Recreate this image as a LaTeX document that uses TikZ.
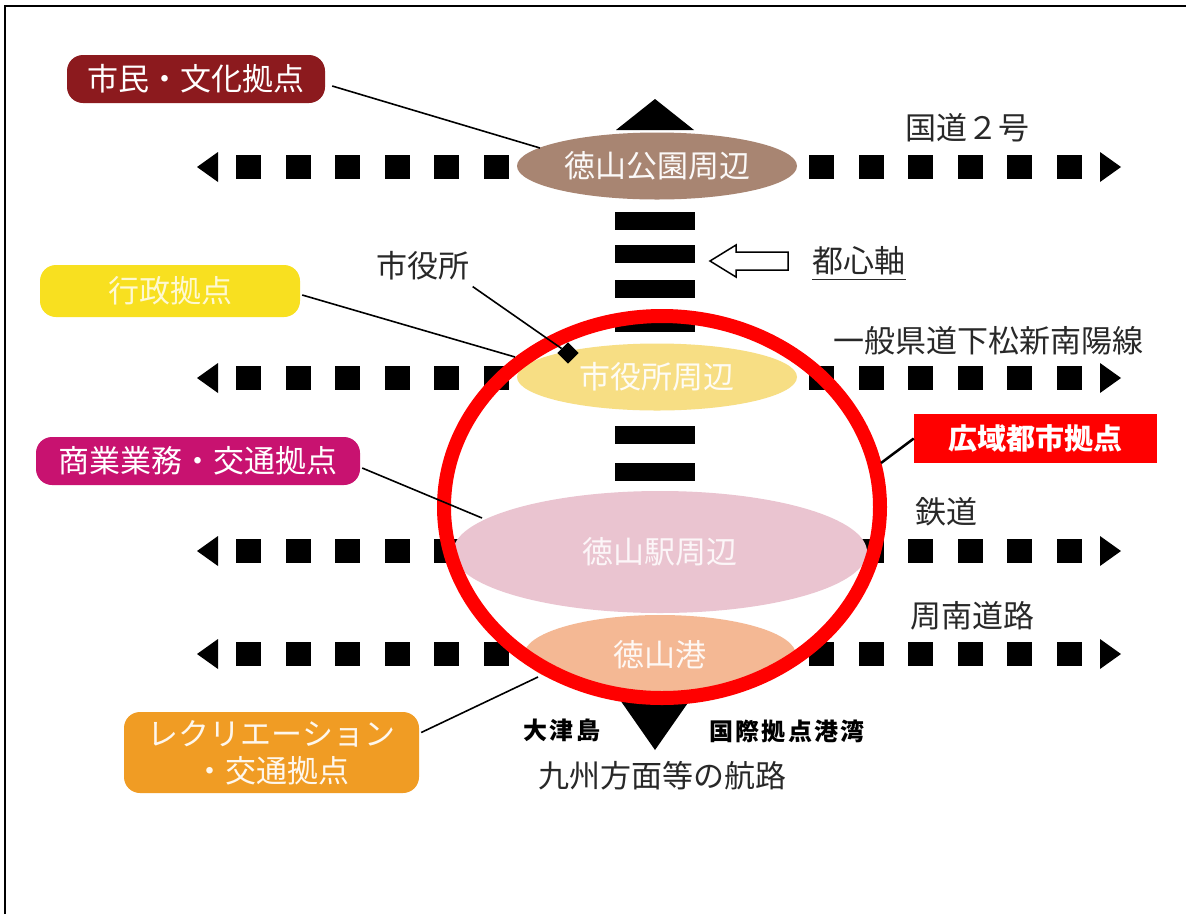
\documentclass[tikz,border=0pt]{standalone}
\usepackage{fontspec}
\setmainfont{Noto Sans CJK JP}
\usetikzlibrary{shapes.geometric}
\definecolor{cMaroon}{RGB}{140,26,30}
\definecolor{cYellow}{RGB}{248,224,32}
\definecolor{cMagenta}{RGB}{200,18,112}
\definecolor{cOrange}{RGB}{240,156,36}
\definecolor{cBrown}{RGB}{168,133,114}
\definecolor{cPaleY}{RGB}{247,222,132}
\definecolor{cPink}{RGB}{234,196,208}
\definecolor{cSalmon}{RGB}{244,184,148}
\definecolor{cRed}{RGB}{255,0,0}
\definecolor{cText}{RGB}{40,40,40}
\tikzset{
 fbig/.style={font=\fontsize{31}{37}\selectfont},
 tagbox/.style={rounded corners=16pt, inner sep=0pt, fbig, text=white},
 zone/.style={ellipse, inner sep=0pt, fbig, text=white},
 roadlbl/.style={fbig, text=cText, inner sep=0pt},
 lead/.style={line width=1.6pt, black},
 boldlbl/.style={font=\fontsize{24}{28}\selectfont\bfseries\addfontfeature{LetterSpace=9}, inner sep=0pt, text=black},
}
\begin{document}
\begin{tikzpicture}[x=1pt,y=-1pt]
\useasboundingbox (0,0) rectangle (1186,914);
\fill[white] (0,0) rectangle (1186,914);
\draw[line width=1.5pt] (5,914) -- (5,6) -- (1186,6);

% dotted roads
\foreach \yy in {167,378,551,654} {
  \foreach \i in {0,...,5} {
    \fill ({236+49.5*\i},\yy-12) rectangle ++(25,24);
    \fill ({809+49.5*\i},\yy-12) rectangle ++(25,24);
  }
  \fill (197,\yy) -- (218,\yy-15) -- (218,\yy+15) -- cycle;
  \fill (1121,\yy) -- (1100,\yy-15) -- (1100,\yy+15) -- cycle;
}

% central axis
\foreach \yy in {220.5,254,288.5,322.5,434.5,472} {
  \fill (615,\yy-9) rectangle (695,\yy+9);
}
\fill (655,99) -- (616,130) -- (694,130) -- cycle;
\fill (655,750) -- (618,697) -- (692,697) -- cycle;

% zones
\node[zone, fill=cBrown, minimum width=280pt, minimum height=67pt, text=white!95!cBrown] (koen) at (657,166) {徳山公園周辺};
\node[zone, fill=cPaleY, minimum width=280pt, minimum height=67pt, text=white!92!cPaleY] (shiyaku) at (657,377) {市役所周辺};
\node[zone, fill=cSalmon, minimum width=272pt, minimum height=80pt, text=white!90!cSalmon] (ko) at (660,655) {徳山港};
\node[zone, fill=cPink, minimum width=414pt, minimum height=122pt, text=white!85!cPink] (eki) at (660,552) {徳山駅周辺};

% red ring
\node[ellipse, draw=cRed, line width=14pt, minimum width=436pt, minimum height=382pt, inner sep=0pt] (ring) at (662,507) {};

% hollow arrow and axis label
\draw[line width=1.5pt, fill=white] (710,261) -- (736,245) -- (736,252) -- (788,252) -- (788,270) -- (736,270) -- (736,277) -- cycle;
\node[roadlbl] (toshin) at (859,261) {都心軸};
\draw[line width=1.5pt, cText] ([yshift=-4pt]toshin.south west) -- ([yshift=-4pt]toshin.south east);

% road labels
\node[roadlbl] (r1) at (967,128) {国道２号};
\node[roadlbl] (r2) at (988,341) {一般県道下松新南陽線};
\node[roadlbl] (r3) at (946,512) {鉄道};
\node[roadlbl] (r4) at (972,616) {周南道路};

% left tags
\node[tagbox, fill=cMaroon, minimum width=258pt, minimum height=48pt] (shimin) at (196,79) {市民・文化拠点};
\node[tagbox, fill=cYellow, minimum width=260pt, minimum height=52pt, text=white!80!cYellow] (gyosei) at (170,291) {行政拠点};
\node[tagbox, fill=cMagenta, minimum width=324pt, minimum height=48pt] (shogyo) at (198,461) {商業業務・交通拠点};
\node[tagbox, fill=cOrange, minimum width=295pt, minimum height=81pt, align=center, text=white!92!cOrange, font=\fontsize{31}{37}\selectfont] (recre) at (271.5,752.5) {レクリエーション\\・交通拠点};
\node[roadlbl] (shiyakusho) at (423,266) {市役所};

% wide-area tag
\node[fill=cRed, minimum width=243pt, minimum height=49pt, inner sep=0pt, text=white, font=\fontsize{29}{34}\selectfont\bfseries] (kouiki) at (1035.5,438.5) {広域都市拠点};

% diamond
\node[fill=black, rotate=45, minimum size=15pt, inner sep=0pt] (dia) at (568,353) {};

% leaders
\coordinate (a1) at (540,148);
\coordinate (a2) at (515,357);
\coordinate (a3) at (482,518);
\coordinate (a4) at (538,677);
\coordinate (a5) at (881,463);
\draw[lead] ([shift={(7,7)}]shimin.east) -- (a1);
\draw[lead] ([shift={(2,4)}]gyosei.east) -- (a2);
\draw[lead] ([shift={(3,6)}]shiyakusho.south east) -- (dia);
\draw[lead] ([shift={(2,7)}]shogyo.east) -- (a3);
\draw[lead] ([shift={(2,-20)}]recre.east) -- (a4);
\draw[line width=2.5pt] (kouiki.west) -- (a5);

% bottom labels
\node[boldlbl] (otsu) at (562,730) {大津島};
\node[boldlbl] (kokusai) at (787,731) {国際拠点港湾};
\node[roadlbl] (kyushu) at (662,776) {九州方面等の航路};
\end{tikzpicture}
\end{document}
